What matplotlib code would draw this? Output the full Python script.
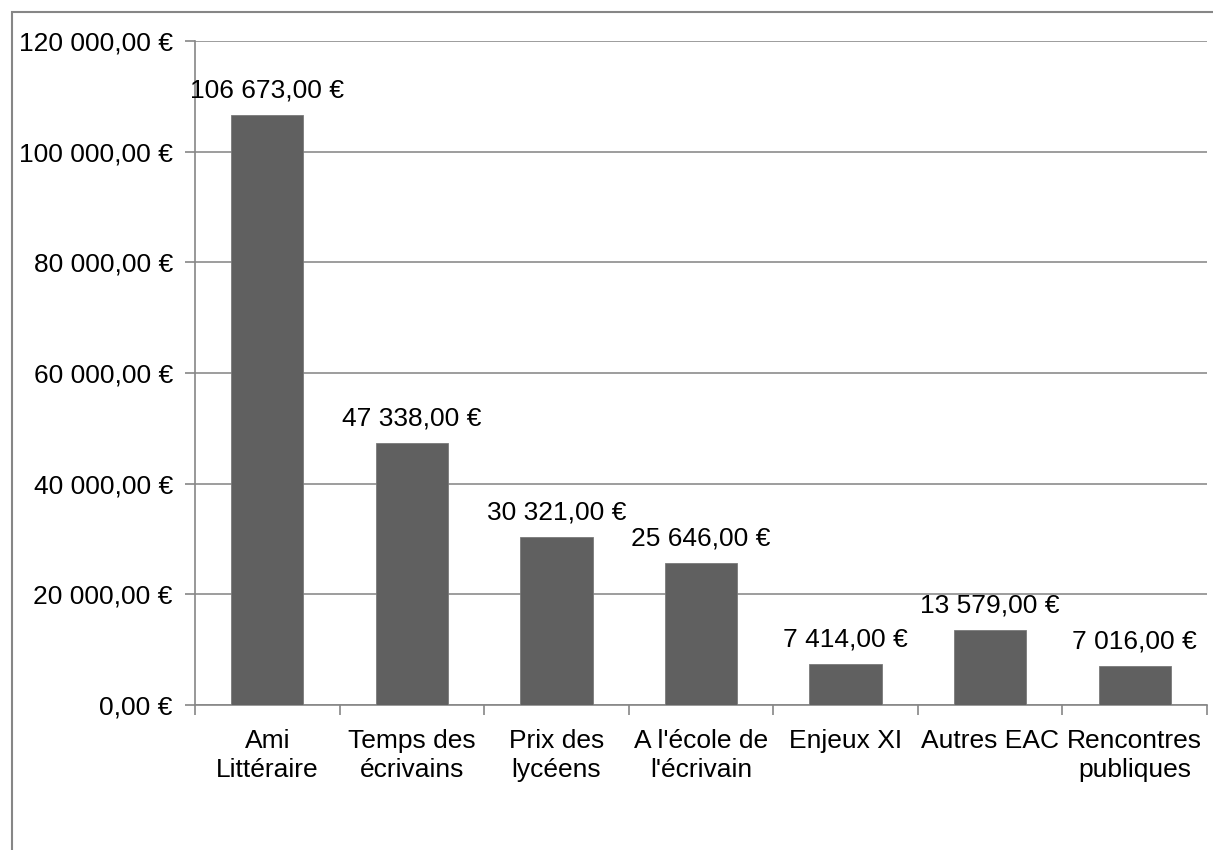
import matplotlib.pyplot as plt
from matplotlib.patches import Rectangle
import numpy as np

plt.rcParams['font.family'] = ['Liberation Sans', 'DejaVu Sans']

categories = ['Ami\nLittéraire', 'Temps des\nécrivains', 'Prix des\nlycéens',
              "A l'école de\nl'écrivain", 'Enjeux XI', 'Autres EAC', 'Rencontres\npubliques']
values = [106673, 47338, 30321, 25646, 7414, 13579, 7016]
y_ticks = [0, 20000, 40000, 60000, 80000, 100000, 120000]


def euro(v):
    # format français : espace pour les milliers, virgule décimale
    s = '{:,.2f}'.format(v).replace(',', ' ').replace('.', ',')
    return s + ' €'


fig = plt.figure(figsize=(12.13, 8.5), dpi=100)
ax = fig.add_axes([195 / 1213, 1 - 705 / 850, (1207 - 195) / 1213, (705 - 41) / 850])

# cadre extérieur (seuls les bords haut et gauche sont visibles)
fig.patches.append(Rectangle((12 / 1213, -0.2), 1.2, 1.2 - 12 / 850, transform=fig.transFigure,
                             fill=False, edgecolor='#868686', linewidth=1.5, clip_on=False))

x = np.arange(len(categories))
ax.bar(x, values, width=0.5, color='#606060', edgecolor='#7a7a7a', linewidth=0.6, zorder=3)

for xi, v in zip(x, values):
    ax.annotate(euro(v), (xi, v), xytext=(0, 9), textcoords='offset points',
                ha='center', va='bottom', fontsize=19, color='black')

ax.set_xlim(-0.5, len(categories) - 0.5)
ax.set_ylim(0, 120000)
ax.set_yticks(y_ticks)
ax.set_yticklabels([euro(v) for v in y_ticks], fontsize=19)

ax.set_xticks(np.arange(len(categories) + 1) - 0.5)
ax.set_xticklabels([])
ax.set_xticks(x, minor=True)
ax.set_xticklabels(categories, minor=True, fontsize=19, linespacing=1.3)
ax.tick_params(axis='x', which='minor', length=0, pad=17)
ax.tick_params(axis='x', which='major', length=7, width=1.2, color='#868686', direction='out')
ax.tick_params(axis='y', length=7, width=1.2, color='#868686', direction='out', pad=9)

ax.grid(axis='y', color='#8c8c8c', linewidth=1.2, zorder=0)
ax.set_axisbelow(True)
for side in ['top', 'right']:
    ax.spines[side].set_visible(False)
for side in ['left', 'bottom']:
    ax.spines[side].set_color('#868686')
    ax.spines[side].set_linewidth(1.2)

fig.savefig('out.png', dpi=100)
